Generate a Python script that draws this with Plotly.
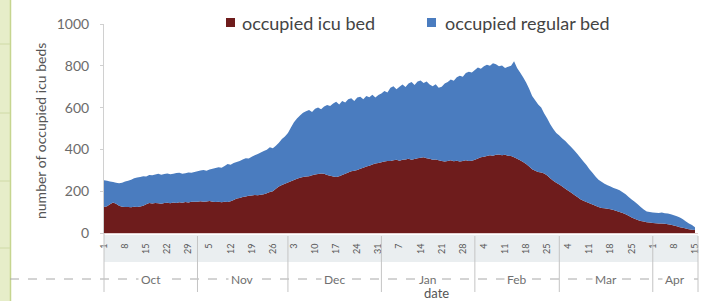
import plotly.graph_objects as go
import pandas as pd

# ---- data ----
dates = pd.date_range("2020-10-01", "2021-04-15", freq="D")

icu_beds = [
    # Oct
    125, 128, 138, 146, 140, 130, 126,
    124, 125, 123, 126, 124, 127, 130,
    138, 143, 141, 144, 142, 140, 143,
    145, 142, 146, 144, 147, 145, 148,
    146, 149, 150,
    # Nov
    150, 152, 149, 151, 153, 150, 148,
    150, 147, 149, 148, 152, 158, 165,
    168, 172, 175, 178, 180, 182, 181,
    183, 185, 190, 196, 200, 212, 222,
    230, 236,
    # Dec
    242, 248, 254, 260, 264, 268, 270,
    272, 276, 280, 282, 285, 283, 278,
    274, 270, 268, 272, 278, 284, 290,
    295, 298, 302, 308, 312, 318, 322,
    328, 332, 335,
    # Jan
    338, 342, 345, 344, 348, 350, 346,
    350, 352, 355, 350, 354, 358, 360,
    362, 358, 355, 350, 352, 348, 345,
    342, 345, 348, 343, 346, 342, 345,
    348, 344, 346,
    # Feb
    350, 356, 362, 365, 368, 372, 370,
    374, 376, 372, 375, 370, 368, 362,
    355, 348, 340, 330, 318, 305, 298,
    292, 290, 285, 275, 262, 250, 240,
    # Mar
    232, 222, 212, 202, 192, 182, 172,
    162, 154, 148, 142, 136, 130, 124,
    120, 118, 116, 114, 110, 105, 100,
    96, 90, 82, 74, 68, 62, 58,
    55, 52, 50,
    # Apr
    48, 47, 46, 45, 44, 42, 40,
    36, 32, 28, 25, 21, 18, 16,
    14,
]

# top of the stacked area (icu + regular)
total_beds = [
    # Oct
    252, 250, 247, 244, 241, 238, 240,
    246, 250, 255, 262, 266, 268, 271,
    270, 278, 276, 280, 283, 279, 282,
    285, 281, 284, 287, 288, 284, 286,
    290, 288, 292,
    # Nov
    296, 299, 301, 298, 304, 308, 311,
    315, 312, 320, 330, 327, 335, 340,
    345, 352, 358, 356, 365, 372, 378,
    385, 392, 398, 410, 405, 418, 432,
    450, 462,
    # Dec
    478, 505, 530, 548, 562, 575, 582,
    588, 579, 595, 600, 592, 605, 612,
    608, 620, 628, 615, 632, 625, 640,
    645, 632, 648, 652, 640, 655, 650,
    662, 648, 660,
    # Jan
    668, 680, 672, 695, 702, 688, 700,
    710, 698, 715, 722, 708, 725, 730,
    718, 725, 710, 702, 712, 695, 700,
    715, 722, 735, 728, 745, 752, 748,
    765, 772, 768,
    # Feb
    780, 792, 786, 798, 805, 800, 812,
    808, 798, 802, 790, 795, 800, 822,
    790, 768, 745, 720, 690, 655, 635,
    615, 600, 572, 548, 520, 498, 478,
    # Mar
    466, 452, 440, 425, 410, 395, 378,
    360, 342, 325, 305, 288, 270, 255,
    245, 236, 228, 222, 215, 210, 205,
    195, 185, 172, 160, 150, 138, 125,
    112, 103, 100,
    # Apr
    98, 97, 96, 98, 95, 93, 90,
    85, 80, 74, 66, 55, 46, 38,
    28,
]

tick_labels = ["1", "8", "15", "22", "29",
               "5", "12", "19", "26",
               "3", "10", "17", "24", "31",
               "7", "14", "21", "28",
               "4", "11", "18", "25",
               "4", "11", "18", "25",
               "1", "8", "15"]
months = ["Oct", "Nov", "Dec", "Jan", "Feb", "Mar", "Apr"]
month_bounds = ["2020-10-01", "2020-11-01", "2020-12-01", "2021-01-01",
                "2021-02-01", "2021-03-01", "2021-04-01", "2021-04-16"]
series_names = ["occupied icu bed", "occupied regular bed"]
y_ticks = [0, 200, 400, 600, 800, 1000]

ICU_COLOR = "#6e1c1c"
REG_COLOR = "#4a7cbf"
FONT = "Lato"

fig = go.Figure()
fig.add_trace(go.Scatter(x=dates, y=icu_beds, mode="none", fill="tozeroy",
                         fillcolor=ICU_COLOR, name=series_names[0]))
fig.add_trace(go.Scatter(x=dates, y=total_beds, mode="none", fill="tonexty",
                         fillcolor=REG_COLOR, name=series_names[1]))

W, H = 717, 301
L, R, T, B = 104, 19, 24, 68
pw, ph = W - L - R, H - T - B


def px(xp):
    return (xp - L) / pw


def py(yp):
    return (H - B - yp) / ph


shapes = []
annotations = []

# left decorative strip
shapes.append(dict(type="rect", xref="paper", yref="paper", x0=px(0), x1=px(10),
                   y0=py(H), y1=py(0), fillcolor="#e6edc9", line=dict(width=0), layer="below"))
shapes.append(dict(type="line", xref="paper", yref="paper", x0=px(10.5), x1=px(10.5),
                   y0=py(H), y1=py(0), line=dict(color="#c6d590", width=1.5)))
for yy in [44, 113, 181, 248]:
    shapes.append(dict(type="line", xref="paper", yref="paper", x0=px(0), x1=px(10),
                       y0=py(yy), y1=py(yy), line=dict(color="#cfdaa6", width=1)))

# light band behind day labels
shapes.append(dict(type="rect", xref="paper", yref="paper", x0=0, x1=1,
                   y0=py(262), y1=py(235), fillcolor="#eaeef0", line=dict(width=0), layer="below"))

# dashed row line
shapes.append(dict(type="line", xref="paper", yref="paper", x0=px(10), x1=1,
                   y0=py(279), y1=py(279), line=dict(color="#a8a8a8", width=1, dash="dash")))

# month separators
for mb in month_bounds[1:-1]:
    shapes.append(dict(type="line", xref="x", yref="paper", x0=mb, x1=mb,
                       y0=py(236), y1=py(292), line=dict(color="#c4c4c4", width=1)))
shapes.append(dict(type="line", xref="paper", yref="paper", x0=0, x1=0,
                   y0=0, y1=py(292), line=dict(color="#c4c4c4", width=1)))
shapes.append(dict(type="line", xref="paper", yref="paper", x0=1, x1=1,
                   y0=py(236), y1=py(292), line=dict(color="#c4c4c4", width=1)))

# month labels
for i, m in enumerate(months):
    a = pd.Timestamp(month_bounds[i])
    b = pd.Timestamp(month_bounds[i + 1])
    mid = a + (b - a) / 2
    annotations.append(dict(x=mid, xref="x", y=py(279), yref="paper", text=m,
                            xanchor="center", yanchor="middle",
                            showarrow=False, bgcolor="white", borderpad=2,
                            font=dict(family=FONT, size=12, color="#707070")))

# axis titles
annotations.append(dict(x=px(437), xref="paper", y=py(292.5), yref="paper", text="date",
                        xanchor="center", yanchor="middle",
                        showarrow=False, font=dict(family=FONT, size=13, color="#555555")))
annotations.append(dict(x=px(40), xref="paper", y=py(131), yref="paper",
                        text="number of occupied icu beds", textangle=-90, showarrow=False,
                        xanchor="center", yanchor="middle",
                        font=dict(family=FONT, size=14, color="#555555")))

# legend
for (x0, x1, tx, name, col) in [(226, 235, 240, series_names[0], ICU_COLOR),
                                (427, 436, 443, series_names[1], REG_COLOR)]:
    shapes.append(dict(type="rect", xref="paper", yref="paper", x0=px(x0), x1=px(x1),
                       y0=py(27), y1=py(18), fillcolor=col, line=dict(width=0)))
    annotations.append(dict(x=px(tx), xref="paper", y=py(22.5), yref="paper", text=name,
                            xanchor="left", yanchor="middle", showarrow=False,
                            font=dict(family=FONT, size=18, color="#444444")))

fig.update_layout(
    width=W, height=H, autosize=False,
    margin=dict(l=L, r=R, t=T, b=B, pad=0),
    paper_bgcolor="white", plot_bgcolor="white",
    showlegend=False,
    shapes=shapes, annotations=annotations,
    xaxis=dict(type="date", range=[month_bounds[0], month_bounds[-1]],
               tickvals=list(dates[::7]), ticktext=tick_labels, tickangle=-90,
               tickfont=dict(family=FONT, size=9, color="#555555"),
               ticklabelstandoff=6,
               showgrid=False, zeroline=False, showline=True, linecolor="#e3cfcf",
               ticks=""),
    yaxis=dict(range=[0, 1000], tickvals=y_ticks, showgrid=False, zeroline=False,
               showline=True, linecolor="#d0d0d0", ticks="outside", ticklen=3,
               tickcolor="#d0d0d0", ticklabelstandoff=8,
               tickfont=dict(family=FONT, size=14, color="#6b6b6b")),
)

fig.write_html("out.html", config={"displayModeBar": False},
               post_script="document.body.style.margin='0';document.body.style.overflow='hidden';")
